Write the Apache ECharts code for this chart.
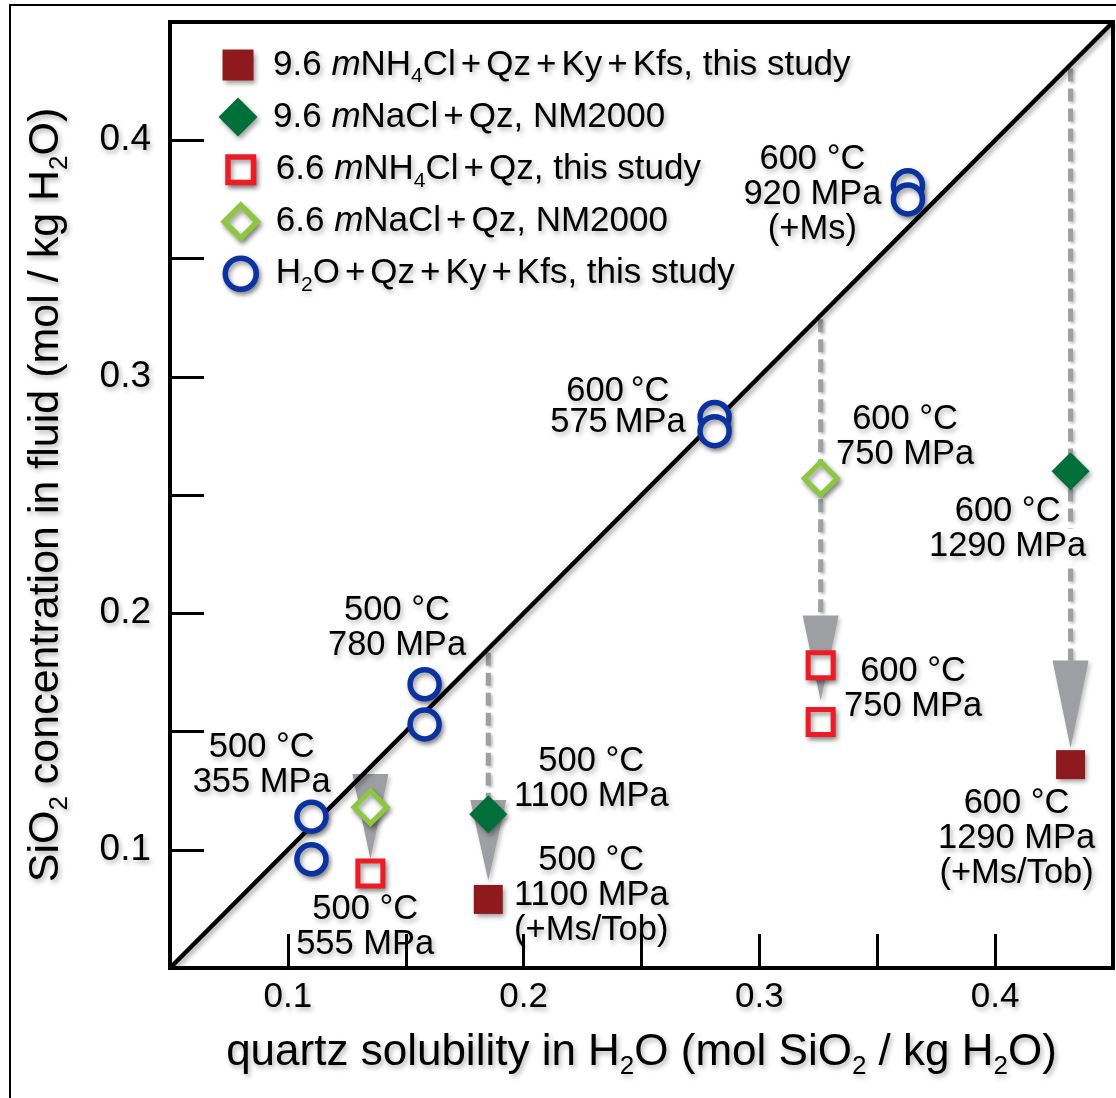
<!DOCTYPE html>
<html>
<head>
<meta charset="utf-8">
<script src="https://cdn.jsdelivr.net/npm/echarts@6/dist/echarts.min.js"></script>
<style>
  html, body { margin: 0; padding: 0; background: #fff; }
  #chart { width: 1116px; height: 1098px; }
</style>
</head>
<body>
<div id="chart"></div>
<script>
// ---- measured values (mol SiO2 / kg H2O) ----
// x: quartz solubility in pure H2O at the same P-T, y: measured SiO2 in fluid
const nh4cl96 = [[0.185, 0.079], [0.432, 0.136]];
const nacl96 = [[0.185, 0.115], [0.432, 0.260]];
const nh4cl66 = [[0.135, 0.090], [0.326, 0.178], [0.326, 0.154]];
const nacl66 = [[0.135, 0.118], [0.326, 0.257]];
const h2oRuns = [
  [0.110, 0.114], [0.110, 0.096],
  [0.158, 0.170], [0.158, 0.153],
  [0.281, 0.283], [0.281, 0.277],
  [0.363, 0.381], [0.363, 0.375]
];

// drop from the 1:1 line: [x, dashed line start, arrow head top, arrow tip]
const drops = [
  [0.135, 0.132, 0.132, 0.096],
  [0.185, 0.185, 0.121, 0.087],
  [0.326, 0.326, 0.199, 0.163],
  [0.432, 0.432, 0.180, 0.143]
];

// P-T annotations: [text, x, y]
const notes = [
  ['500 °C\n355 MPa', 0.0889, 0.136],
  ['500 °C\n780 MPa', 0.1463, 0.1936],
  ['500 °C\n555 MPa', 0.1328, 0.0674],
  ['500 °C\n1100 MPa', 0.2287, 0.130],
  ['500 °C\n1100 MPa\n(+Ms/Tob)', 0.2287, 0.0805],
  ['600\u2009°C\n575\u2009MPa', 0.240, 0.2873],
  ['600 °C\n920 MPa\n(+Ms)', 0.3225, 0.377],
  ['600 °C\n750 MPa', 0.3618, 0.2746],
  ['600 °C\n750 MPa', 0.3652, 0.1678],
  ['600 °C\n1290 MPa', 0.4053, 0.2356],
  ['600 °C\n1290 MPa\n(+Ms/Tob)', 0.4091, 0.1047]
];

const seriesNames = ['nh4cl96', 'nacl96', 'nh4cl66', 'nacl66', 'h2o'];
const legendLabels = [
  '9.6 {i|m}NH{s|4}Cl{p|+}Qz{p|+}Ky{p|+}Kfs, this study',
  '9.6 {i|m}NaCl{p|+}Qz, NM2000{s| }',
  '6.6 {i|m}NH{s|4}Cl{p|+}Qz, this study',
  '6.6 {i|m}NaCl{p|+}Qz, NM2000{s| }',
  'H{s|2}O{p|+}Qz{p|+}Ky{p|+}Kfs, this study'
];
const xTickLabels = ['0.1', '0.2', '0.3', '0.4'];
const yTickLabels = ['0.1', '0.2', '0.3', '0.4'];

const FONT = '"Liberation Sans", Arial, Helvetica, sans-serif';
const INK = '#000';
const GREY = '#9d9fa2';
const shadowText = {
  textShadowColor: 'rgba(0,0,0,0.3)', textShadowBlur: 5,
  textShadowOffsetX: 2, textShadowOffsetY: 3
};
const shadowItem = {
  shadowColor: 'rgba(0,0,0,0.4)', shadowBlur: 5, shadowOffsetX: 2, shadowOffsetY: 3
};

function tickLabel(list) {
  return function (v) {
    const s = v.toFixed(1);
    return (Math.abs(v * 10 - Math.round(v * 10)) < 1e-6 && list.indexOf(s) >= 0) ? s : '';
  };
}

function markerSeries(name, data, symbol, size, style, z) {
  return {
    type: 'scatter', name: name, data: data, symbol: symbol, symbolSize: size,
    itemStyle: Object.assign({ opacity: 1 }, shadowItem, style), z: z,
    emphasis: { disabled: true }
  };
}

// legend icons live in a 40x40 box; the zero-length corner segments pin the box size
function boxed(body) { return 'path://M0,0L0,0' + body + 'M40,40L40,40'; }
const iconSquare = boxed('M4.5,4.5h31v31h-31z');
const iconOpenSquare = boxed('M7.25,7.25h25.5v25.5h-25.5z');
const iconDiamond = boxed('M20,0.5L39.5,20L20,39.5L0.5,20z');
const iconOpenDiamond = boxed('M20,3.5L36.5,20L20,36.5L3.5,20z');
const iconRing = boxed('M4.5,20a15.5,15.5 0 1,0 31,0a15.5,15.5 0 1,0 -31,0z');

const LF = 35;
const legendRich = {
  i: { fontStyle: 'italic', fontSize: LF, fontFamily: FONT, color: INK, lineHeight: 36 },
  s: { fontSize: 21, fontFamily: FONT, color: INK, lineHeight: 36, padding: [23, 0, 0, 0] },
  p: { fontSize: LF, fontFamily: FONT, color: INK, lineHeight: 36, padding: [0, 5, 0, 5] }
};

const nameRich = function (size, sub) {
  return {
    s: { fontSize: sub, fontFamily: FONT, color: INK, lineHeight: size + 6, padding: [Math.round(size * 0.62), 0, 0, 0] }
  };
};

const chart = echarts.init(document.getElementById('chart'), null, { renderer: 'canvas' });

const NF = 34.5;
const noteData = notes.map(function (n, k) {
  const item = { value: [n[1], n[2]], name: n[0] };
  if (k === 5) {
    item.label = { lineHeight: 31 };
  }
  if (k === 9) {
    const parts = n[0].split('\n');
    item.label = {
      formatter: '{a|' + parts[0] + '}\n{w|' + parts[1] + '}',
      rich: {
        a: { fontSize: NF, fontFamily: FONT, color: INK, lineHeight: 35 },
        w: { fontSize: NF, fontFamily: FONT, color: INK, lineHeight: 35, backgroundColor: '#fff', padding: [0, 4, 0, 4] }
      }
    };
  }
  return item;
});

const legendIcons = [
  { name: 'nh4cl96', icon: iconSquare, itemStyle: Object.assign({ color: '#8f1a1e', borderWidth: 0 }, shadowItem) },
  { name: 'nacl96', icon: iconDiamond, itemStyle: Object.assign({ color: '#006f3a', borderWidth: 0 }, shadowItem) },
  { name: 'nh4cl66', icon: iconOpenSquare, itemStyle: Object.assign({ color: '#fff', borderColor: '#ed1c24', borderWidth: 5.5 }, shadowItem) },
  { name: 'nacl66', icon: iconOpenDiamond, itemStyle: Object.assign({ color: '#fff', borderColor: '#8dc63f', borderWidth: 5.5 }, shadowItem) },
  { name: 'h2o', icon: iconRing, itemStyle: Object.assign({ color: '#fff', borderColor: '#0a32a0', borderWidth: 5.5 }, shadowItem) }
];

// one legend row per entry, stacked at a fixed pitch
const LEGEND_TOP = 43, LEGEND_PITCH = 52;
const legends = legendIcons.map(function (entry, k) {
  return {
    orient: 'vertical', left: 218, top: LEGEND_TOP + k * LEGEND_PITCH, padding: 0,
    itemWidth: 40, itemHeight: 40,
    data: [entry],
    selectedMode: false,
    formatter: function (name) { return legendLabels[seriesNames.indexOf(name)]; },
    textStyle: Object.assign({ fontFamily: FONT, fontSize: LF, color: INK, lineHeight: 36, padding: [0, 0, 0, 10], rich: legendRich }, shadowText)
  };
});

const option = {
  backgroundColor: '#fff',
  animation: false,
  grid: {
    left: 170, right: 3, top: 22, bottom: 130,
    show: true, borderColor: '#000', borderWidth: 4
  },
  xAxis: {
    type: 'value', min: 0.05, max: 0.45, interval: 0.05,
    name: 'quartz solubility in H{s|2}O (mol SiO{s|2} / kg H{s|2}O)',
    nameLocation: 'middle', nameGap: 60,
    nameTextStyle: Object.assign({ fontFamily: FONT, fontSize: 44, color: INK, lineHeight: 50, rich: nameRich(44, 26) }, shadowText),
    axisLine: { show: true, lineStyle: { color: '#000', width: 4 } },
    axisTick: { show: true, inside: true, length: 34, lineStyle: { color: '#000', width: 3 } },
    axisLabel: Object.assign({ fontFamily: FONT, fontSize: 35, color: INK, margin: 12, formatter: tickLabel(xTickLabels), showMinLabel: true, showMaxLabel: true }, shadowText),
    splitLine: { show: false }
  },
  yAxis: {
    type: 'value', min: 0.05, max: 0.45, interval: 0.05,
    name: 'SiO{s|2} concentration in fluid (mol / kg H{s|2}O)',
    nameLocation: 'middle', nameGap: 99, nameRotate: 90,
    nameTextStyle: Object.assign({ fontFamily: FONT, fontSize: 43, color: INK, lineHeight: 49, rich: nameRich(43, 26) }, shadowText),
    axisLine: { show: true, lineStyle: { color: '#000', width: 4 } },
    axisTick: { show: true, inside: true, length: 34, lineStyle: { color: '#000', width: 3 } },
    axisLabel: Object.assign({ fontFamily: FONT, fontSize: 37, color: INK, margin: 19, formatter: tickLabel(yTickLabels), showMinLabel: true, showMaxLabel: true }, shadowText),
    splitLine: { show: false }
  },
  legend: legends,
  graphic: [
    {
      type: 'rect', silent: true, z: -10,
      shape: { x: 10, y: 5, width: 1300, height: 1300 },
      style: { fill: 'none', stroke: '#000', lineWidth: 2 }
    }
  ],
  series: [
    {
      type: 'custom', name: 'drops', data: drops, z: 1,
      encode: { x: 0, y: [1, 2, 3] },
      silent: true,
      renderItem: function (params, api) {
        const x = api.value(0);
        const a = api.coord([x, api.value(1)]);
        const h = api.coord([x, api.value(2)]);
        const t = api.coord([x, api.value(3)]);
        const half = 18;
        const kids = [];
        if (h[1] - a[1] > 2) {
          kids.push({
            type: 'line',
            shape: { x1: a[0], y1: a[1] + 4, x2: h[0], y2: h[1] },
            style: { stroke: GREY, lineWidth: 5, lineDash: [13, 7], fill: null,
                     shadowColor: 'rgba(0,0,0,0.25)', shadowBlur: 3, shadowOffsetX: 2, shadowOffsetY: 2 }
          });
        }
        kids.push({
          type: 'polygon',
          shape: { points: [[h[0] - half, h[1]], [h[0] + half, h[1]], [t[0], t[1]]] },
          style: { fill: GREY, shadowColor: 'rgba(0,0,0,0.25)', shadowBlur: 4, shadowOffsetX: 2, shadowOffsetY: 3 }
        });
        return { type: 'group', children: kids };
      }
    },
    {
      type: 'line', name: 'one-to-one', data: [[0.05, 0.05], [0.45, 0.45]],
      symbol: 'none', silent: true, z: 2,
      lineStyle: { color: '#000', width: 4.5, shadowColor: 'rgba(0,0,0,0.35)', shadowBlur: 5, shadowOffsetX: 2, shadowOffsetY: 3 }
    },
    markerSeries('nh4cl96', nh4cl96, 'rect', 29, { color: '#8f1a1e' }, 3),
    markerSeries('nacl96', nacl96, 'diamond', 38, { color: '#006f3a' }, 3),
    markerSeries('nh4cl66', nh4cl66, 'rect', 25, { color: '#fff', borderColor: '#ed1c24', borderWidth: 5 }, 3),
    markerSeries('nacl66', nacl66, 'diamond', 33, { color: '#fff', borderColor: '#8dc63f', borderWidth: 5 }, 3),
    markerSeries('h2o', h2oRuns, 'circle', 29, { color: '#fff', borderColor: '#0a32a0', borderWidth: 5.5 }, 4),
    {
      type: 'scatter', name: 'notes', data: noteData, symbolSize: 1, z: 5,
      itemStyle: { color: 'rgba(255,255,255,0)' }, silent: true,
      label: Object.assign({
        show: true, position: 'inside', align: 'center', verticalAlign: 'middle',
        fontFamily: FONT, fontSize: NF, color: INK, opacity: 1, lineHeight: 35,
        formatter: function (p) { return p.name; }
      }, shadowText)
    }
  ]
};

chart.setOption(option);
</script>
</body>
</html>
